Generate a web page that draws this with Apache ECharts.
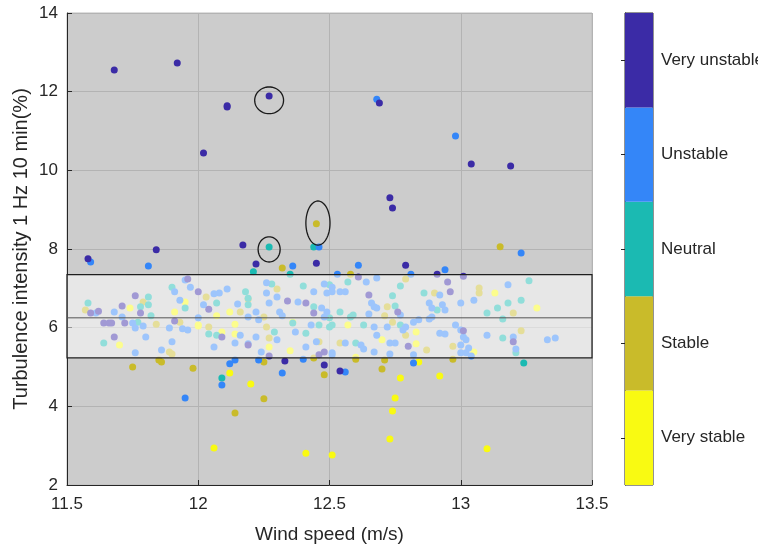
<!DOCTYPE html>
<html>
<head>
<meta charset="utf-8">
<script src="https://cdn.jsdelivr.net/npm/echarts@6/dist/echarts.min.js"></script>
<style>
  html, body { margin: 0; padding: 0; background: #ffffff; }
  #main { width: 758px; height: 547px; }
</style>
</head>
<body>
<div id="main"></div>
<script>
// stability classes, bottom to top of the colour bar
var classNames = ["Very stable", "Stable", "Neutral", "Unstable", "Very unstable"];
var classColors = ["#f9fa12", "#c9bb2a", "#1bbab2", "#3486f8", "#3b2ba6"];

var xTicks = [11.5, 12, 12.5, 13, 13.5];
var yTicks = [2, 4, 6, 8, 10, 12, 14];

// [wind speed, turbulence intensity]
var veryUnstable = [
  [11.68, 12.55], [11.92, 12.73], [12.11, 11.61], [12.11, 11.64], [12.27, 11.89], [12.02, 10.44],
  [12.69, 11.71], [13.04, 10.16], [13.19, 10.11], [12.73, 9.30], [12.74, 9.04], [12.17, 8.10],
  [11.84, 7.98], [11.58, 7.75], [12.22, 7.62], [12.45, 7.64], [12.79, 7.59], [12.91, 7.36],
  [13.01, 7.31], [12.61, 7.29], [12.33, 5.15], [12.48, 5.05], [12.54, 4.90],
  [11.96, 7.24], [11.76, 6.81], [11.71, 6.55], [11.59, 6.37], [11.62, 6.42], [11.78, 6.37],
  [11.91, 6.17], [11.64, 6.12], [11.66, 6.12], [11.67, 6.12], [11.72, 6.12], [11.68, 5.76],
  [12.00, 6.91], [12.04, 6.47], [12.34, 6.68], [12.41, 6.63], [12.44, 6.37], [12.09, 5.76],
  [12.48, 5.38], [12.46, 5.31], [12.27, 5.28], [12.65, 6.83], [12.95, 7.16], [12.96, 6.91],
  [12.76, 6.40], [13.01, 5.92], [12.80, 5.53], [13.20, 5.64], [12.19, 5.56]
];
var unstable = [
  [12.68, 11.81], [12.98, 10.87], [11.59, 7.67], [11.81, 7.57], [12.46, 8.05], [12.36, 7.57],
  [12.61, 7.59], [12.94, 7.47], [13.23, 7.90], [12.53, 7.36], [12.81, 7.36], [11.95, 4.21],
  [12.12, 5.08], [12.14, 5.18], [12.09, 4.54], [12.23, 5.18], [12.32, 4.85], [12.40, 5.20],
  [12.56, 4.87], [12.82, 5.10],
  [11.95, 7.21], [11.97, 7.03], [11.91, 6.91], [11.93, 6.70], [11.61, 6.37], [11.68, 6.40],
  [11.71, 6.27], [12.00, 6.25], [11.75, 6.12], [11.76, 5.99], [11.79, 6.04], [11.89, 5.99],
  [11.94, 5.97], [11.96, 5.94], [11.80, 5.76], [11.90, 5.64], [11.76, 5.36], [11.86, 5.43],
  [12.26, 7.14], [12.11, 6.98], [12.08, 6.88], [12.06, 6.86], [12.26, 6.88], [12.30, 6.78],
  [12.44, 6.91], [12.48, 7.11], [12.49, 6.88], [12.02, 6.58], [12.15, 6.60], [12.27, 6.63],
  [12.38, 6.65], [12.47, 6.50], [12.48, 6.27], [12.49, 6.40], [12.22, 6.40], [12.23, 6.20],
  [12.19, 6.27], [12.31, 6.40], [12.32, 6.30], [12.43, 6.07], [12.16, 5.81], [12.19, 5.59],
  [12.22, 5.76], [12.30, 5.69], [12.45, 5.64], [12.06, 5.51], [12.14, 5.61], [12.41, 5.51],
  [12.51, 5.31], [12.37, 5.89], [12.24, 5.38], [12.64, 7.16], [12.68, 7.26], [12.51, 7.03],
  [12.51, 6.91], [12.54, 6.91], [12.56, 6.91], [12.92, 6.83], [12.66, 6.63], [12.67, 6.53],
  [12.68, 6.50], [12.88, 6.63], [12.89, 6.50], [12.93, 6.58], [12.94, 6.45], [12.65, 6.35],
  [12.77, 6.32], [12.84, 6.20], [12.88, 6.22], [12.89, 6.27], [12.67, 6.02], [12.72, 6.02],
  [12.79, 6.02], [12.82, 6.14], [12.98, 6.07], [13.00, 5.94], [12.92, 5.86], [12.94, 5.84],
  [12.78, 5.94], [12.68, 5.81], [12.56, 5.61], [12.62, 5.56], [12.73, 5.61], [12.75, 5.61],
  [13.00, 5.56], [12.51, 5.36], [12.63, 5.46], [12.67, 5.38], [12.73, 5.33], [12.82, 5.31],
  [13.02, 5.36], [13.18, 7.09], [13.05, 6.70], [13.00, 6.63], [13.01, 5.76], [13.02, 5.69],
  [13.10, 5.81], [13.20, 5.76], [13.21, 5.46], [13.33, 5.69], [13.36, 5.74], [13.03, 5.48],
  [13.00, 5.36], [13.04, 5.28]
];
var neutral = [
  [12.27, 8.05], [12.44, 8.05], [12.21, 7.42], [12.35, 7.36], [12.09, 4.72], [13.24, 5.10],
  [11.90, 7.03], [11.81, 6.78], [11.58, 6.63], [11.78, 6.53], [11.81, 6.58], [11.95, 6.50],
  [11.82, 6.30], [11.77, 6.14], [11.64, 5.61], [12.28, 7.11], [12.18, 6.91], [12.19, 6.75],
  [12.40, 7.06], [12.50, 7.09], [12.07, 6.63], [12.19, 6.58], [12.44, 6.53], [12.36, 6.12],
  [12.46, 6.07], [12.29, 5.89], [12.41, 5.86], [12.07, 5.81], [12.04, 5.84], [12.57, 7.16],
  [12.77, 7.06], [12.74, 6.81], [12.86, 6.88], [12.75, 6.55], [12.91, 6.45], [12.54, 6.40],
  [12.50, 6.25], [12.58, 6.27], [12.59, 6.32], [12.63, 6.07], [12.77, 6.07], [12.50, 6.02],
  [12.51, 6.07], [12.60, 5.61], [13.26, 7.19], [13.10, 6.37], [13.14, 6.50], [13.18, 6.63],
  [13.23, 6.70], [13.16, 6.22], [13.16, 5.74], [13.21, 5.36]
];
var stable = [
  [12.45, 8.64], [12.32, 7.52], [13.15, 8.06], [11.75, 5.00], [11.85, 5.18], [11.86, 5.13],
  [11.98, 4.97], [12.25, 4.19], [12.14, 3.83], [12.25, 5.13], [12.44, 5.23], [12.48, 4.80],
  [12.60, 5.20], [12.70, 4.95], [12.71, 5.18], [12.97, 5.20], [12.58, 7.36],
  [11.79, 6.65], [11.57, 6.45], [11.84, 6.09], [11.93, 6.14], [11.89, 5.38], [11.90, 5.33],
  [12.03, 6.78], [12.19, 6.73], [12.30, 6.98], [12.16, 6.40], [12.25, 6.27], [12.04, 6.02],
  [12.26, 6.02], [12.27, 5.74], [12.46, 5.64], [12.79, 7.24], [12.90, 6.88], [12.72, 6.53],
  [12.71, 6.30], [12.74, 6.14], [12.79, 5.81], [12.54, 5.61], [12.87, 5.43], [12.97, 5.53],
  [13.07, 7.01], [13.07, 6.88], [13.20, 6.37], [13.23, 5.92]
];
var veryStable = [
  [12.12, 4.85], [12.20, 4.57], [12.06, 2.94], [12.41, 2.81], [12.51, 2.76], [12.77, 4.72],
  [12.84, 5.13], [12.92, 4.77], [12.75, 4.21], [12.74, 3.88], [12.73, 3.17], [13.10, 2.92],
  [11.95, 6.65], [11.74, 6.50], [11.91, 6.40], [12.00, 6.07], [11.70, 5.56], [12.07, 6.30],
  [12.12, 6.40], [12.36, 6.14], [12.00, 6.04], [12.14, 6.09], [12.09, 5.89], [12.14, 5.84],
  [12.27, 5.51], [12.35, 5.41], [12.57, 6.07], [12.83, 5.89], [12.70, 5.69], [12.83, 5.59],
  [12.60, 5.25], [13.13, 6.88], [13.29, 6.50], [13.05, 5.38]
];

// box of the bulk: [low edge, median, high edge]
var boxStats = [5.23, 6.25, 7.35];
// highlighted points: [centre x, centre y, half width, half height] in data units
var highlights = [
  [12.27, 11.78, 0.055, 0.34],
  [12.27, 7.99, 0.042, 0.32],
  [12.456, 8.66, 0.046, 0.56]
];

var FONT = "'Liberation Sans', Arial, sans-serif";
var TXT = "#262626";

var myChart = echarts.init(document.getElementById("main"), null, { renderer: "canvas" });

var groups = [veryStable, stable, neutral, unstable, veryUnstable];
var scatterSeries = groups.map(function (pts, i) {
  return {
    name: classNames[i],
    type: "scatter",
    xAxisIndex: 0,
    yAxisIndex: 0,
    symbolSize: 7,
    z: 2,
    itemStyle: { color: classColors[i], opacity: 1 },
    data: pts
  };
});

var option = {
  backgroundColor: "#ffffff",
  animation: false,
  grid: [
    { left: 67, top: 13, width: 525, height: 472, show: true, containLabel: false, outerBoundsMode: "none",
      backgroundColor: "#cccccc", borderColor: "#bcbcbc", borderWidth: 1 },
    { left: 625, top: 13, width: 28, height: 472, show: true, containLabel: false, outerBoundsMode: "none",
      backgroundColor: "transparent", borderColor: "#262626", borderWidth: 1 }
  ],
  xAxis: [
    {
      gridIndex: 0, type: "value", min: xTicks[0], max: xTicks[xTicks.length - 1], interval: 0.5,
      name: "Wind speed (m/s)", nameLocation: "middle", nameGap: 40,
      nameTextStyle: { fontFamily: FONT, fontSize: 19, color: TXT },
      axisLine: { show: true, onZero: false, lineStyle: { color: TXT } },
      axisTick: { show: true, inside: true, length: 5, lineStyle: { color: TXT } },
      axisLabel: { fontFamily: FONT, fontSize: 17, color: TXT, margin: 11 },
      splitLine: { show: true, lineStyle: { color: "#b3b3b3", width: 1 } }
    },
    { gridIndex: 1, type: "value", min: 0, max: 1, show: false }
  ],
  yAxis: [
    {
      gridIndex: 0, type: "value", min: yTicks[0], max: yTicks[yTicks.length - 1], interval: 2,
      name: "Turbulence intensity 1 Hz 10 min(%)", nameLocation: "middle", nameGap: 36,
      nameMoveOverlap: false,
      nameTextStyle: { fontFamily: FONT, fontSize: 20, color: TXT },
      axisLine: { show: true, onZero: false, lineStyle: { color: TXT } },
      axisTick: { show: true, inside: true, length: 5, lineStyle: { color: TXT } },
      axisLabel: { fontFamily: FONT, fontSize: 17, color: TXT, margin: 9 },
      splitLine: { show: true, lineStyle: { color: "#b3b3b3", width: 1 } }
    },
    {
      gridIndex: 1, type: "category", position: "right", data: classNames,
      axisLine: { show: true, lineStyle: { color: TXT } },
      axisTick: { show: true, inside: true, length: 4, alignWithLabel: true, lineStyle: { color: TXT } },
      axisLabel: { fontFamily: FONT, fontSize: 17, color: TXT, margin: 8 },
      splitLine: { show: false }
    }
  ],
  series: scatterSeries.concat([
    {
      // translucent box over the bulk of the points
      type: "custom",
      xAxisIndex: 0,
      yAxisIndex: 0,
      z: 5,
      silent: true,
      data: [[xTicks[0], boxStats[0], xTicks[xTicks.length - 1], boxStats[2], boxStats[1]]],
      renderItem: function (params, api) {
        var p0 = api.coord([api.value(0), api.value(3)]);
        var p1 = api.coord([api.value(2), api.value(1)]);
        var pm0 = api.coord([api.value(0), api.value(4)]);
        var pm1 = api.coord([api.value(2), api.value(4)]);
        return {
          type: "group",
          children: [
            { type: "rect", shape: { x: p0[0], y: p0[1], width: p1[0] - p0[0], height: p1[1] - p0[1] },
              style: { fill: "rgba(255,255,255,0.52)", stroke: "#1e1e1e", lineWidth: 1.2 } },
            { type: "line", shape: { x1: pm0[0], y1: pm0[1], x2: pm1[0], y2: pm1[1] },
              style: { stroke: "#555555", lineWidth: 1 } }
          ]
        };
      }
    },
    {
      // ellipses marking selected samples
      type: "custom",
      xAxisIndex: 0,
      yAxisIndex: 0,
      z: 6,
      silent: true,
      data: highlights,
      renderItem: function (params, api) {
        var c = api.coord([api.value(0), api.value(1)]);
        var s = api.size([api.value(2), api.value(3)]);
        var pts = [];
        for (var k = 0; k < 60; k++) {
          var a = k / 60 * Math.PI * 2;
          pts.push([c[0] + s[0] * Math.cos(a), c[1] + s[1] * Math.sin(a)]);
        }
        return { type: "polygon", shape: { points: pts },
                 style: { fill: "none", stroke: "#1a1a1a", lineWidth: 1.3 } };
      }
    },
    {
      // colour bar
      type: "bar",
      xAxisIndex: 1,
      yAxisIndex: 1,
      barWidth: "100%",
      barCategoryGap: 0,
      silent: true,
      data: classNames.map(function (n, i) {
        return { value: 1, itemStyle: { color: classColors[i] } };
      })
    }
  ])
};

myChart.setOption(option);
window.addEventListener("resize", function () { myChart.resize(); });
</script>
</body>
</html>
